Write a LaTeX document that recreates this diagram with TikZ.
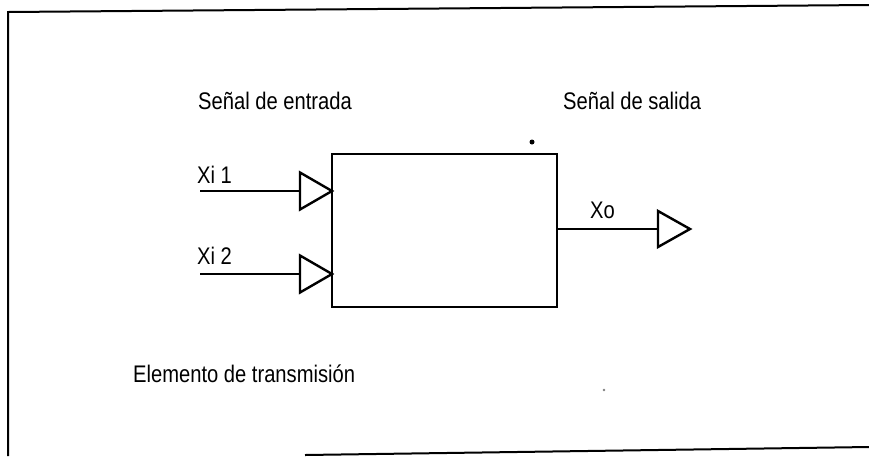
\documentclass[tikz,border=0pt]{standalone}
\usepackage{fontspec}
\setmainfont{Liberation Sans}[FakeStretch=0.84]
\usetikzlibrary{shapes.geometric}
\begin{document}
\begin{tikzpicture}[x=1pt,y=-1pt,
  lbl/.style={inner sep=0pt, anchor=base west, font=\fontsize{24}{24}\selectfont},
  tri/.style={draw, line width=2.4pt, isosceles triangle, isosceles triangle stretches,
    minimum width=37pt, minimum height=32pt, inner sep=0pt, outer sep=0pt},
  wire/.style={line width=2.4pt},
  frame/.style={line width=2pt}]
\useasboundingbox (0,0) rectangle (869,456);
% frame
\coordinate (fa) at (869,5);
\coordinate (fb) at (8,12);
\coordinate (fc) at (8,456);
\coordinate (fd) at (305,455);
\coordinate (fe) at (869,447);
\draw[frame] (fa) -- (fb) -- (fc);
\draw[frame] (fd) -- (fe);
% main box
\node[draw, line width=2.8pt, minimum width=225pt, minimum height=153pt,
  inner sep=0pt, outer sep=0pt, anchor=north west] (box) at (332,154) {};
% inputs
\node[tri, anchor=apex] (t1) at (332,191) {};
\node[tri, anchor=apex] (t2) at (332,274) {};
\coordinate (in1) at (200,191);
\coordinate (in2) at (200,274);
\draw[wire] (in1) -- (t1.lower side);
\draw[wire] (in2) -- (t2.lower side);
% output
\coordinate (bo) at (557,229);
\node[tri, anchor=lower side, minimum width=36pt] (t3) at (658,229) {};
\draw[wire] (bo) -- (t3.lower side);
% labels
\node[lbl] (lin) at (198,109) {Señal de entrada};
\node[lbl] (lout) at (563,109) {Señal de salida};
\node[lbl] (lel) at (133,382) {Elemento de transmisión};
\node[lbl] (lx1) at (197,183) {Xi 1};
\node[lbl] (lx2) at (197,264) {Xi 2};
\node[lbl] (lxo) at (590,218) {Xo};
% specks
\fill (532,142) circle (2.5pt);
\fill[gray] (604,390) circle (1.3pt);
\end{tikzpicture}
\end{document}
